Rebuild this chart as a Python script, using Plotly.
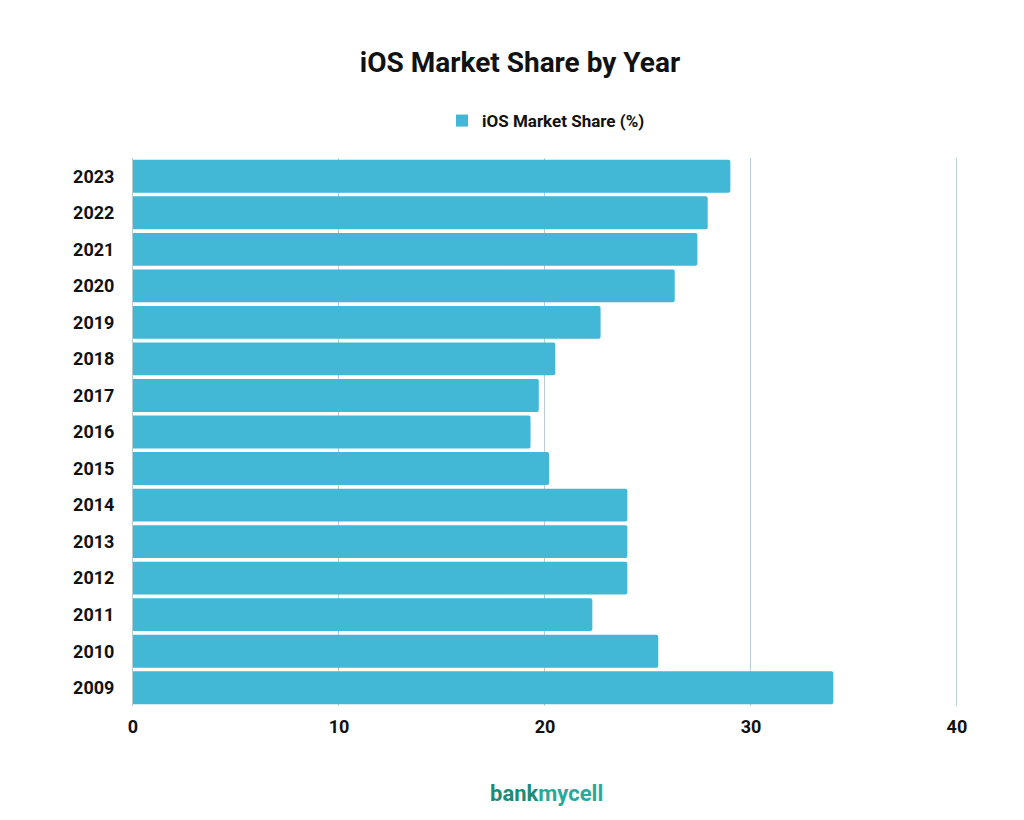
import plotly.graph_objects as go

years = ["2009", "2010", "2011", "2012", "2013", "2014", "2015", "2016",
         "2017", "2018", "2019", "2020", "2021", "2022", "2023"]
share = [34.0, 25.5, 22.3, 24.0, 24.0, 24.0, 20.2, 19.3,
         19.7, 20.5, 22.7, 26.3, 27.4, 27.9, 29.0]
x_ticks = [0, 10, 20, 30, 40]

bar_color = "#42B7D6"

fig = go.Figure()
fig.add_trace(go.Bar(
    x=share, y=years, orientation="h",
    name="<b>iOS Market Share (%)</b>",
    marker=dict(color=bar_color, line=dict(width=0), cornerradius=2),
    showlegend=False,
))
# legend entry drawn separately so its swatch stays square
fig.add_trace(go.Scatter(
    x=[None], y=[None], mode="markers", name="<b>iOS Market Share (%)</b>",
    marker=dict(symbol="square", size=13, color=bar_color),
))

# page body has an 8px margin, so margins are offset to land where the reference is
fig.update_layout(
    width=1024, height=820,
    paper_bgcolor="white", plot_bgcolor="white",
    font=dict(family="Roboto", color="#111111"),
    title=dict(text="<b>iOS Market Share by Year</b>", x=0.5, xanchor="center",
               y=0.934, yanchor="middle", font=dict(size=28, color="#111111")),
    legend=dict(orientation="h", x=0.5, xanchor="center", y=1.0675, yanchor="middle",
                font=dict(size=17), itemsizing="constant"),
    margin=dict(l=125, r=73, t=150, b=122),
    bargap=0.1,
    xaxis=dict(range=[0, 40.1], tickmode="array", tickvals=x_ticks,
               ticktext=["<b>%d</b>" % t for t in x_ticks], showgrid=True,
               gridcolor="#B8CDD4", gridwidth=1, zeroline=False, showline=False,
               tickfont=dict(size=18, color="#111111"), ticks="",
               ticklabelstandoff=8),
    yaxis=dict(showgrid=False, zeroline=False, showline=True, linecolor="#B8CDD4",
               tickfont=dict(size=18, color="#111111"), ticks="",
               tickprefix="<b>", ticksuffix="</b>", ticklabelstandoff=14),
)

fig.add_annotation(
    text="<b><span style='color:#1F8A78'>bank</span><span style='color:#2AA99A'>mycell</span></b>",
    x=0.5, xref="paper", y=-0.159, yref="paper", xanchor="center", yanchor="middle",
    showarrow=False, font=dict(size=22, family="Roboto"),
)

fig.write_html("out.html")
